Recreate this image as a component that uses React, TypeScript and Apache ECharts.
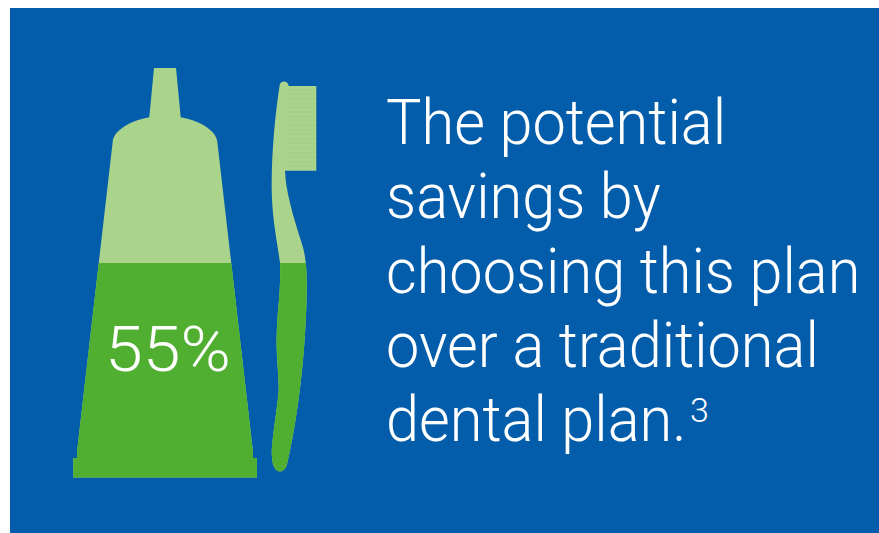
import React, { useEffect, useRef } from "react";
import * as echarts from "echarts";

const fillPercent = [55];
const headlineLines = [
  "The potential",
  "savings by",
  "choosing this plan",
  "over a traditional",
  "dental plan.",
];
const footnoteMark = "3";

const BLUE = "#035DAB";
const LIGHT_GREEN = "#AAD48B";
const DARK_GREEN = "#50AE30";
const FONT = "Roboto, 'Helvetica Neue', Arial, sans-serif";
const HEAD_SIZE = 63;

const tubeOutline =
  "M154 68 L176 68 L180.7 117.3 C199 120.5 216 130 217.3 141.7 L253 452 L253 458 L257 458 L257 477.5 L73.3 477.5 L73.3 458 L77 458 L77 452 L112.7 141.7 C114 130 131 120.5 149.3 117.3 Z";

const brushOutline =
  "M279.7 85 C280 80.5 288 80 288.7 86 L316.3 86 L316.3 170.7 L285 170.7 C285.5 190 293 216 301.7 243 C305 253 306 262 306.6 275 C307.6 320 302 400 287.3 463 C285 474 275 475 272.5 462 C271 452 272 445 273 437 C276 412 279 395 278.7 386 C278 365 276 350 276.7 336 C277 310 281 295 280 263 C277 240 271 215 271.7 180 C272 150 275 115 279.7 85 Z";

const bristleRows = [
  89.5, 94, 98.5, 103, 107.5, 112, 116.5, 121, 125.5, 130, 134.5, 139, 143.5, 148, 152.5, 157, 161.5, 166,
];

export default function App() {
  const ref = useRef<HTMLDivElement>(null);

  useEffect(() => {
    const chart = echarts.init(ref.current!, undefined, { renderer: "svg" });

    const renderProduct = (_params: any, api: any) => {
      const levelY = api.coord([0, api.value(0)])[1];
      const clip = { type: "rect", shape: { x: 0, y: levelY, width: 879, height: 533 - levelY } };
      const shapes = [tubeOutline, brushOutline];
      return {
        type: "group",
        children: [
          ...shapes.map((pathData) => ({
            type: "path",
            shape: { pathData },
            style: { fill: LIGHT_GREEN },
          })),
          ...bristleRows.map((y) => ({
            type: "line",
            shape: { x1: 286, y1: y, x2: 316, y2: y },
            style: { stroke: "#A0CE87", lineWidth: 1 },
          })),
          ...shapes.map((pathData) => ({
            type: "path",
            shape: { pathData },
            style: { fill: DARK_GREEN },
            clipPath: clip,
          })),
        ],
      };
    };

    chart.setOption({
      animation: false,
      backgroundColor: "#FFFFFF",
      grid: { left: 0, right: 0, top: 88, bottom: 56 },
      xAxis: { type: "value", min: 0, max: 879, show: false },
      yAxis: { type: "value", min: 0, max: 100, show: false },
      graphic: [
        {
          type: "rect",
          z: -1,
          shape: { x: 10, y: 8, width: 869, height: 525 },
          style: { fill: BLUE },
        },
        {
          type: "text",
          z: 10,
          x: 168,
          y: 349.5,
          scaleX: 1.08,
          style: {
            text: `${fillPercent[0]}%`,
            fill: "#FFFFFF",
            font: `300 ${HEAD_SIZE}px ${FONT}`,
            align: "center",
            verticalAlign: "middle",
          },
        },
        ...headlineLines.map((text, i) => ({
          type: "text",
          z: 10,
          x: 386,
          y: 122.5 + i * 74.25,
          scaleX: 0.944,
          style: {
            text,
            fill: "#FFFFFF",
            font: `300 ${HEAD_SIZE}px ${FONT}`,
            align: "left",
            verticalAlign: "middle",
          },
        })),
        {
          type: "text",
          z: 10,
          x: 690,
          y: 409.5,
          style: {
            text: footnoteMark,
            fill: "#FFFFFF",
            font: `300 34px ${FONT}`,
            align: "left",
            verticalAlign: "middle",
          },
        },
      ],
      series: [
        {
          type: "custom",
          coordinateSystem: "cartesian2d",
          renderItem: renderProduct,
          data: fillPercent.map((v) => [v]),
          encode: { y: 0 },
          clip: false,
        },
      ],
    });

    return () => chart.dispose();
  }, []);

  return <div ref={ref} style={{ position: "fixed", left: 0, top: 0, width: 879, height: 533 }} />;
}
